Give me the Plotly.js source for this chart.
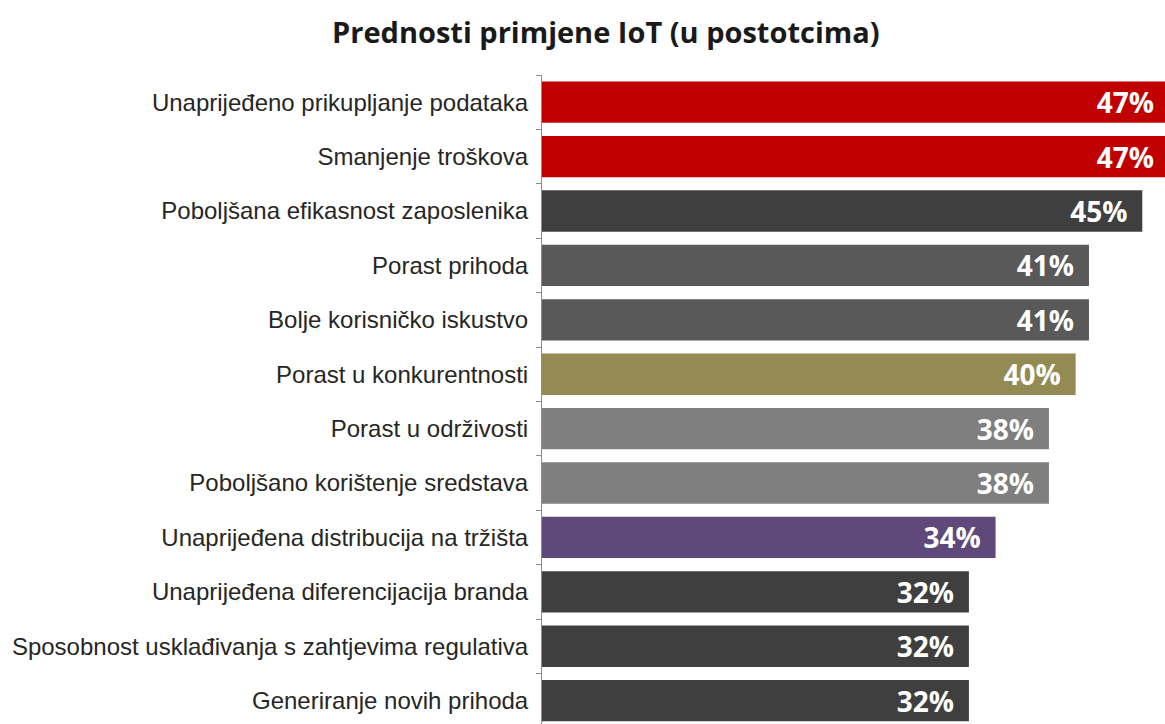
<!DOCTYPE html>
<html>
<head>
<meta charset="utf-8">
<script src="https://cdn.plot.ly/plotly-3.0.1.min.js"></script>
<style>html,body{margin:0;padding:0;background:#fff;overflow:hidden}#chart{width:1165px;height:724px}</style>
</head>
<body>
<div id="chart"></div>
<script>
const categories = [
  "Unaprijeđeno prikupljanje podataka",
  "Smanjenje troškova",
  "Poboljšana efikasnost zaposlenika",
  "Porast prihoda",
  "Bolje korisničko iskustvo",
  "Porast u konkurentnosti",
  "Porast u održivosti",
  "Poboljšano korištenje sredstava",
  "Unaprijeđena distribucija na tržišta",
  "Unaprijeđena diferencijacija branda",
  "Sposobnost usklađivanja s zahtjevima regulativa",
  "Generiranje novih prihoda"
];
const values = [47, 47, 45, 41, 41, 40, 38, 38, 34, 32, 32, 32];
const barColors = ["#C00000", "#C00000", "#3F3F3F", "#595959", "#595959", "#948A54",
                   "#7F7F7F", "#7F7F7F", "#5F497A", "#3F3F3F", "#3F3F3F", "#3F3F3F"];
const titleText = "Prednosti primjene IoT (u postotcima)";

const trace = {
  type: "bar",
  orientation: "h",
  y: categories,
  x: values,
  marker: {color: barColors, line: {width: 0}},
  texttemplate: "%{x}%\u00a0\u2009",
  textposition: "inside",
  insidetextanchor: "end",
  constraintext: "none",
  textfont: {family: "Open Sans", size: 28, color: "#ffffff", weight: "bold"},
  hoverinfo: "none",
  cliponaxis: true
};

const layout = {
  width: 1165,
  height: 724,
  margin: {l: 542, r: 0, t: 75, b: 0, pad: 0},
  paper_bgcolor: "#ffffff",
  plot_bgcolor: "#ffffff",
  bargap: 0.24,
  showlegend: false,
  title: {
    text: "<b>" + titleText + "</b>",
    font: {family: "Open Sans", size: 29, color: "#1a1a1a"},
    x: 0.52, xref: "container", xanchor: "center",
    y: 0.954, yref: "container", yanchor: "middle"
  },
  xaxis: {
    range: [0, 46.7],
    showgrid: false, zeroline: false, showline: false,
    showticklabels: false, ticks: ""
  },
  yaxis: {
    type: "category",
    range: [11.43, -0.5],
    showgrid: false, zeroline: false,
    showline: true, linecolor: "#8c8c8c", linewidth: 1,
    ticks: "outside", ticklen: 5, tickcolor: "#8c8c8c", tickson: "boundaries",
    ticklabelstandoff: 8,
    tickfont: {family: "Liberation Sans, Arial, sans-serif", size: 24, color: "#262626"}
  }
};

Plotly.newPlot("chart", [trace], layout, {displayModeBar: false, staticPlot: true});
</script>
</body>
</html>
